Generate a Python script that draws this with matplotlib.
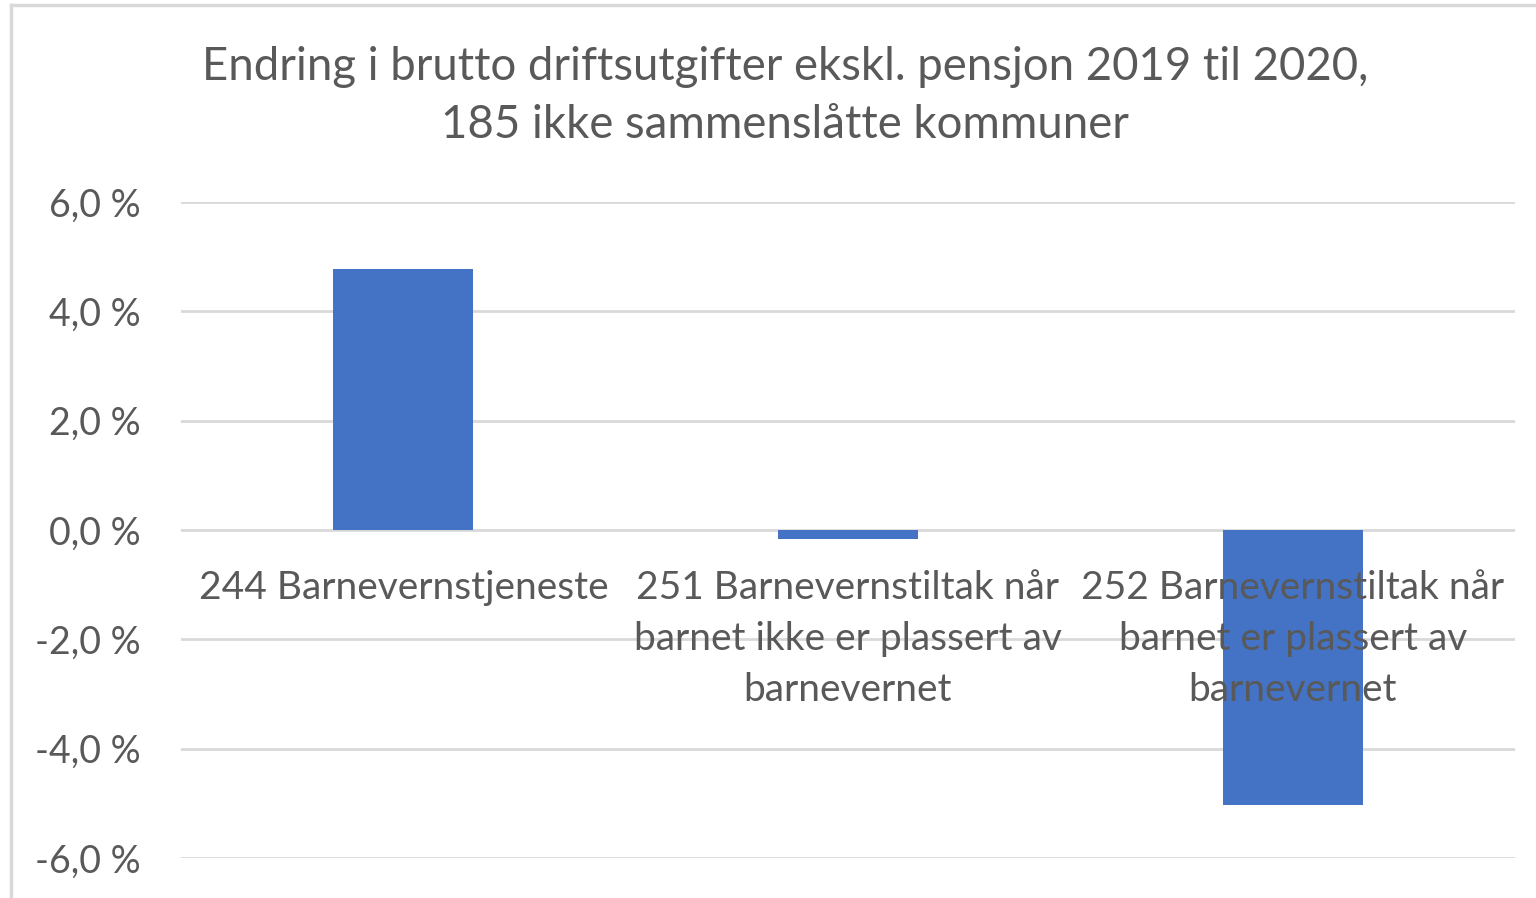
import matplotlib
matplotlib.use("Agg")
import matplotlib.pyplot as plt
from matplotlib.lines import Line2D

categories = [
    "244 Barnevernstjeneste",
    "251 Barnevernstiltak når\nbarnet ikke er plassert av\nbarnevernet",
    "252 Barnevernstiltak når\nbarnet er plassert av\nbarnevernet",
]
values = [4.77, -0.16, -5.03]
yticks = [-6, -4, -2, 0, 2, 4, 6]
title = "Endring i brutto driftsutgifter ekskl. pensjon 2019 til 2020,\n185 ikke sammenslåtte kommuner"

plt.rcParams['font.family'] = ['Lato', 'DejaVu Sans']
txt = "#595959"
grid = "#d9d9d9"

fig = plt.figure(figsize=(15.36, 8.98), dpi=100)
ax = fig.add_axes([181/1536, 1-858/898, (1515-181)/1536, (858-202)/898])

x = list(range(len(categories)))
ax.bar(x, values, width=0.315, color="#4472C4", zorder=2)
ax.set_xlim(-0.5, len(categories)-0.5)
ax.set_ylim(-6, 6)
ax.set_yticks(yticks)
ax.set_yticklabels([f"{v:.1f} %".replace(".", ",") for v in yticks], color=txt, fontsize=27)
ax.tick_params(axis='y', length=0, pad=29)
ax.set_xticks([])
for y in yticks:
    ax.axhline(y, color=grid, lw=2, zorder=1)
for s in ax.spines.values():
    s.set_visible(False)

for i, lab in enumerate(categories):
    ax.annotate(lab, xy=(i, 0), xycoords='data', xytext=(0, -28.5), textcoords='offset points',
                ha='center', va='top', fontsize=28, color=txt, linespacing=1.52, zorder=3)

fig.text(785/1536, 1-96/898, title, ha='center', va='center', fontsize=32.8, color=txt, linespacing=1.5)

# chart border (left and top visible)
fig.add_artist(Line2D([11/1536, 11/1536], [0, 1-5/898], transform=fig.transFigure, color=grid, lw=2.5))
fig.add_artist(Line2D([11/1536, 1], [1-5/898, 1-5/898], transform=fig.transFigure, color=grid, lw=2.5))

fig.savefig("out.png", dpi=100, facecolor="white")
